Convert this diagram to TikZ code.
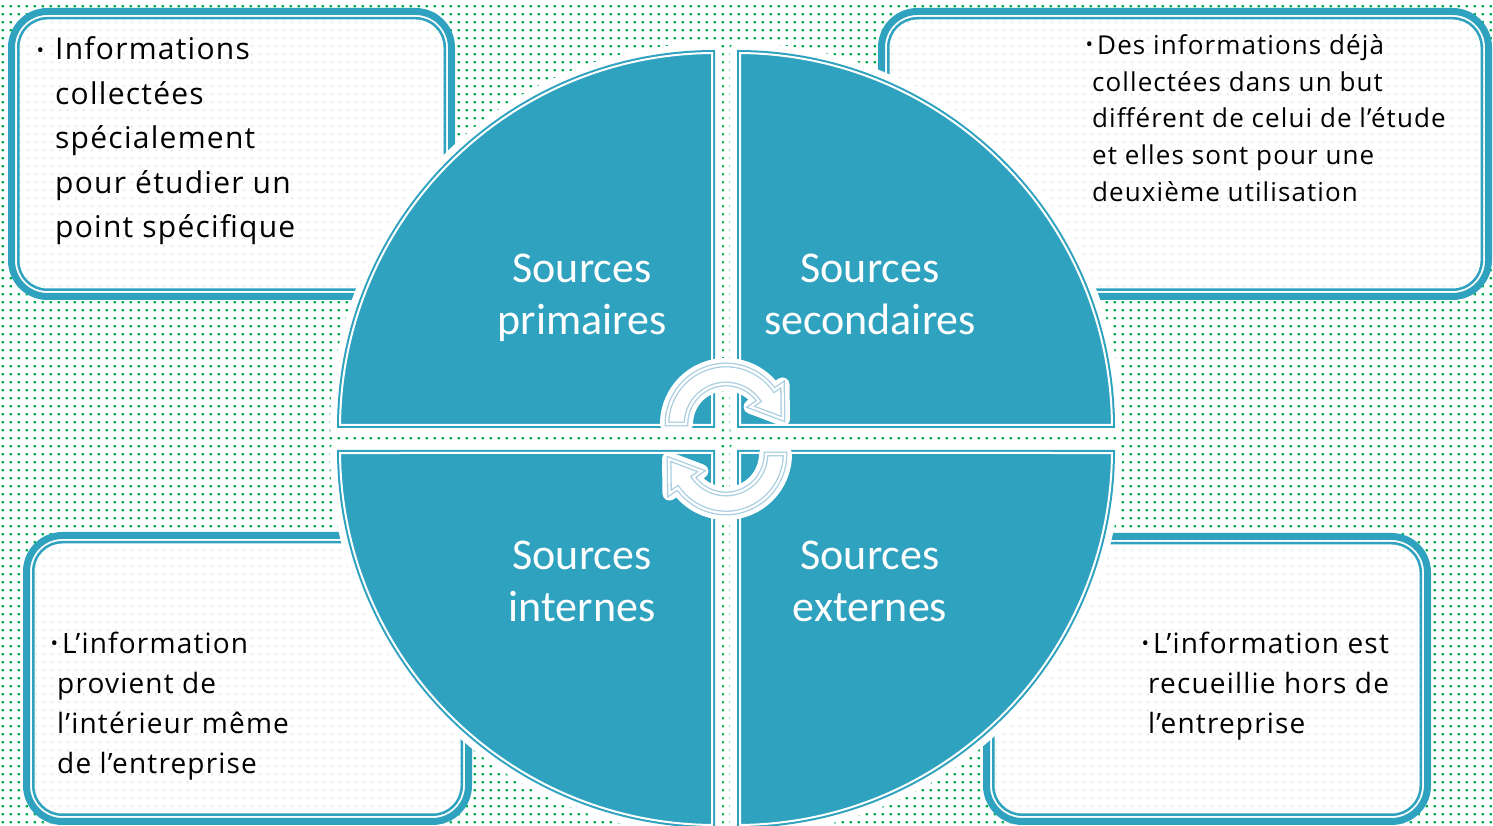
\documentclass[tikz,border=0pt]{standalone}
\usepackage{fontspec}
\setmainfont{Open Sans}
\newfontfamily\bfam[LetterSpace=4.2]{Open Sans}
\newfontfamily\qfont{Carlito}
\usetikzlibrary{patterns}
\definecolor{teal1}{HTML}{2EA2BF}
\definecolor{dotg}{HTML}{00B050}
\definecolor{dotl}{HTML}{E2F2EE}
\definecolor{arrowc}{HTML}{A9CEE0}
\pgfdeclarepatternformonly{gdots}{\pgfqpoint{0pt}{0pt}}{\pgfqpoint{8pt}{8pt}}{\pgfqpoint{8pt}{8pt}}{\pgfpathrectangle{\pgfqpoint{3pt}{3pt}}{\pgfqpoint{2.5pt}{2.5pt}}\pgfusepath{fill}}
\newcommand\bul{{\fontsize{20}{20}\selectfont\raisebox{0.25ex}{•}}}
\newcommand\qhalo[3]{%
  \begin{scope}[shift={(#1,#2)}, rotate=#3]
    \draw[white, line width=14pt, line join=round] (0,0) -- (378,0) arc[start angle=0,end angle=90,radius=378] -- cycle;
  \end{scope}}
\newcommand\qdisc[3]{%
  \begin{scope}[shift={(#1,#2)}, rotate=#3]
    \fill[teal1] (0,0) -- (378,0) arc[start angle=0,end angle=90,radius=378] -- cycle;
    \draw[white, line width=2pt] (3,3) -- (0.46:375) arc[start angle=0.46,end angle=89.54,radius=375] -- cycle;
  \end{scope}}
\newcommand\arrowpath{(180:59) arc[start angle=180,end angle=35,radius=59] -- (35:69) -- (57,5) -- (35:30) -- (35:40) arc[start angle=35,end angle=180,radius=40] -- cycle}
\begin{document}
\begin{tikzpicture}[x=1pt,y=1pt,
  boxo/.style={draw=teal1, line width=7pt, rounded corners=36pt, fill=white, inner sep=0pt, outer sep=0pt},
  boxi/.style={draw=teal1, line width=2.5pt, rounded corners=29pt},
  boxdots/.style={pattern=gdots, pattern color=dotl, rounded corners=33pt},
  btext/.style={anchor=west, align=left, inner sep=0pt, text=black},
  qtext/.style={align=center, text=white, font=\qfont\fontsize{44}{52}\selectfont, inner sep=0pt},
  arrowhalo/.style={fill=white, draw=white, line width=14pt, line join=round},
  arrowln/.style={draw=arrowc, line width=1.3pt, double=white, double distance=2.2pt, line join=miter}
]
\useasboundingbox (0,0) rectangle (1493,826);
\clip (0,0) rectangle (1493,826);
\fill[white] (0,0) rectangle (1493,826);
\fill[pattern=gdots, pattern color=dotg] (0,0) rectangle (1493,826);

% boxes
\node[boxo, minimum width=440pt, minimum height=285pt] (b1) at (231.5,672) {};
\node[boxo, minimum width=607pt, minimum height=285pt] (b2) at (1185,672) {};
\node[boxo, minimum width=442pt, minimum height=286pt] (b3) at (247.5,147.5) {};
\node[boxo, minimum width=441pt, minimum height=285pt] (b4) at (1207,147) {};
\foreach \b in {b1,b2,b3,b4}{
  \fill[boxdots] ([shift={(3.5,3.5)}]\b.south west) rectangle ([shift={(-3.5,-3.5)}]\b.north east);
  \draw[boxi] ([shift={(6.75,6.75)}]\b.south west) rectangle ([shift={(-6.75,-6.75)}]\b.north east);
}

% box texts
\node[btext, font=\bfam\fontsize{30}{44.5}\selectfont] (t1) at (55,685)
  {\llap{\bul\hspace{11pt}}Informations\\collectées\\spécialement\\pour étudier un\\point spécifique};
\node[btext, font=\bfam\fontsize{26}{36.6}\selectfont] (t2) at (1092,708)
  {\hspace*{5pt}\llap{\bul\hspace{4pt}}Des informations déjà\\collectées dans un but\\différent de celui de l’étude\\et elles sont pour une\\deuxième utilisation};
\node[btext, font=\bfam\fontsize{28}{40}\selectfont] (t3) at (57,120)
  {\hspace*{5pt}\llap{\bul\hspace{4pt}}L’information\\provient de\\l’intérieur même\\de l’entreprise};
\node[btext, font=\bfam\fontsize{28}{40}\selectfont] (t4) at (1148,140)
  {\hspace*{5pt}\llap{\bul\hspace{4pt}}L’information est\\recueillie hors de\\l’entreprise};

% circle quadrants
\qhalo{715}{398}{90}
\qhalo{737}{398}{0}
\qhalo{715}{376}{180}
\qhalo{737}{376}{270}
\qdisc{715}{398}{90}
\qdisc{737}{398}{0}
\qdisc{715}{376}{180}
\qdisc{737}{376}{270}

\node[qtext] (q1) at (582,528.5) {Sources\\primaires};
\node[qtext] (q2) at (870,532) {Sources\\secondaires};
\node[qtext] (q3) at (582,244.5) {Sources\\internes};
\node[qtext] (q4) at (870,244.5) {Sources\\externes};

% cycle arrows
\begin{scope}[shift={(726,402)}]
  \path[arrowhalo] \arrowpath;
  \draw[arrowln] \arrowpath;
\end{scope}
\begin{scope}[shift={(726,372)}, rotate=180]
  \path[arrowhalo] \arrowpath;
  \draw[arrowln] \arrowpath;
\end{scope}
\end{tikzpicture}
\end{document}
